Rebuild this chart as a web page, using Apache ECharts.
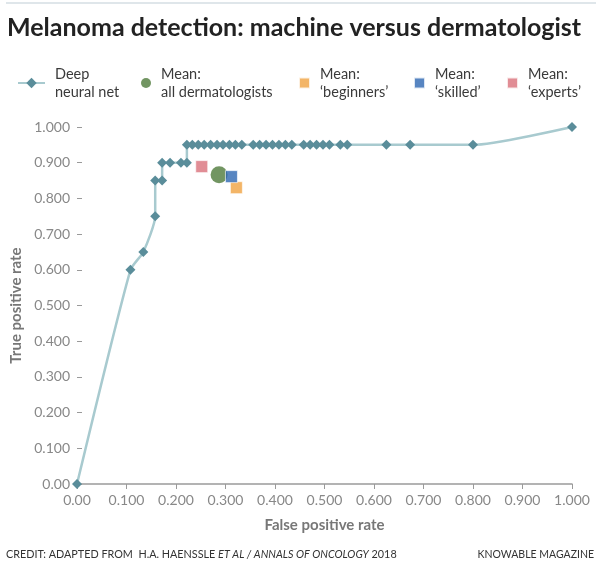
<!DOCTYPE html>
<html>
<head>
<meta charset="utf-8">
<script src="https://cdn.jsdelivr.net/npm/echarts@6/dist/echarts.min.js"></script>
<style>
  html, body { margin: 0; padding: 0; background: #fff; }
  #chart { width: 600px; height: 569px; }
</style>
</head>
<body>
<div id="chart"></div>
<script>
// ROC curve of the deep neural net (false positive rate / true positive rate)
var netFpr = [0, 0.108, 0.134, 0.158, 0.158, 0.172, 0.172, 0.188, 0.210, 0.222,
  0.222, 0.233, 0.245, 0.257, 0.270, 0.283, 0.295, 0.308, 0.320, 0.333,
  0.356, 0.369, 0.382, 0.395, 0.408, 0.421, 0.434,
  0.458, 0.471, 0.484, 0.497, 0.510,
  0.532, 0.546,
  0.625, 0.673, 0.800, 1.000];
var netTpr = [0, 0.60, 0.65, 0.75, 0.85, 0.85, 0.90, 0.90, 0.90, 0.90,
  0.95, 0.95, 0.95, 0.95, 0.95, 0.95, 0.95, 0.95, 0.95, 0.95,
  0.95, 0.95, 0.95, 0.95, 0.95, 0.95, 0.95,
  0.95, 0.95, 0.95, 0.95, 0.95,
  0.95, 0.95,
  0.95, 0.95, 0.95, 1.000];

// dermatologist means [fpr, tpr]
var meanAll = [0.287, 0.866];
var meanBeginners = [0.322, 0.830];
var meanSkilled = [0.312, 0.861];
var meanExperts = [0.252, 0.889];

var FONT = 'Lato';

function tickLabel(v) {
  return v === 0 ? '0.00' : v.toFixed(3);
}

var netData = netFpr.map(function (x, i) { return [x, netTpr[i]]; });

var myChart = echarts.init(document.getElementById('chart'));

function legendItem(name, left, size, label) {
  return {
    data: [name],
    left: left,
    top: 65,
    padding: 0,
    itemWidth: size[0],
    itemHeight: size[1],
    selectedMode: false,
    formatter: function () { return label; },
    textStyle: {
      fontFamily: FONT,
      fontSize: 14.5,
      lineHeight: 18,
      color: '#3a3a3a',
      padding: [0, 0, 0, 5]
    }
  };
}

option = {
  animation: false,
  title: {
    text: 'Melanoma detection: machine versus dermatologist',
    left: 7,
    top: 15,
    padding: 0,
    textStyle: {
      fontFamily: FONT,
      fontWeight: 'bold',
      fontSize: 25,
      color: '#222'
    }
  },
  legend: [
    legendItem('Deep neural net', 17, [27, 13], 'Deep\nneural net'),
    legendItem('Mean: all dermatologists', 141, [10, 10], 'Mean:\nall dermatologists'),
    legendItem('Mean: ‘beginners’', 298, [11, 11], 'Mean:\n‘beginners’'),
    legendItem('Mean: ‘skilled’', 413, [11, 11], 'Mean:\n‘skilled’'),
    legendItem('Mean: ‘experts’', 506, [11, 11], 'Mean:\n‘experts’')
  ],
  grid: {
    left: 77,
    right: 28,
    top: 127,
    bottom: 85
  },
  xAxis: {
    type: 'value',
    min: 0,
    max: 1,
    interval: 0.1,
    name: 'False positive rate',
    nameLocation: 'middle',
    nameGap: 34,
    nameTextStyle: {
      fontFamily: FONT,
      fontWeight: 'bold',
      fontSize: 15,
      color: '#777'
    },
    axisLine: { lineStyle: { color: '#9a9a9a', width: 1.5 } },
    axisTick: { show: true, length: 5, lineStyle: { color: '#9a9a9a' } },
    axisLabel: {
      formatter: tickLabel,
      fontFamily: FONT,
      fontSize: 14,
      color: '#888',
      margin: 9
    },
    splitLine: { show: false }
  },
  yAxis: {
    type: 'value',
    min: 0,
    max: 1,
    interval: 0.1,
    name: 'True positive rate',
    nameLocation: 'middle',
    nameGap: 50,
    nameTextStyle: {
      fontFamily: FONT,
      fontWeight: 'bold',
      fontSize: 15,
      color: '#777'
    },
    axisLine: { show: false },
    axisTick: { show: true, inside: true, length: 5, lineStyle: { color: '#9a9a9a' } },
    axisLabel: {
      formatter: tickLabel,
      fontFamily: FONT,
      fontSize: 14,
      color: '#888',
      margin: 7
    },
    splitLine: { show: false }
  },
  graphic: [
    {
      type: 'rect',
      shape: { x: 6, y: 2, width: 590, height: 2 },
      style: { fill: '#dfe6ea' }
    },
    {
      type: 'text',
      left: 6,
      top: 549,
      style: {
        text: '{n|CREDIT: ADAPTED FROM  H.A. HAENSSLE }{i|ET AL / ANNALS OF ONCOLOGY}{n| 2018}',
        rich: {
          n: { fontFamily: FONT, fontSize: 10.8, fill: '#333' },
          i: { fontFamily: FONT, fontSize: 10.8, fontStyle: 'italic', fill: '#333' }
        }
      }
    },
    {
      type: 'text',
      right: 6,
      top: 549,
      style: {
        text: 'KNOWABLE MAGAZINE',
        fontFamily: FONT,
        fontSize: 10.5,
        fill: '#333'
      }
    }
  ],
  series: [
    {
      name: 'Deep neural net',
      type: 'line',
      smooth: 0.2,
      data: netData,
      symbol: 'diamond',
      symbolSize: 10,
      showAllSymbol: true,
      lineStyle: { color: '#a8cacf', width: 2.5 },
      itemStyle: { color: '#5a8d9a' },
      z: 2
    },
    {
      name: 'Mean: all dermatologists',
      type: 'scatter',
      symbol: 'circle',
      symbolSize: 17,
      data: [meanAll],
      itemStyle: { color: '#4f7a3b' },
      z: 3
    },
    {
      name: 'Mean: ‘beginners’',
      type: 'scatter',
      symbol: 'rect',
      symbolSize: 12,
      data: [meanBeginners],
      itemStyle: { color: '#f0a341', borderColor: '#fff', borderWidth: 0.8 },
      z: 4
    },
    {
      name: 'Mean: ‘skilled’',
      type: 'scatter',
      symbol: 'rect',
      symbolSize: 12,
      data: [meanSkilled],
      itemStyle: { color: '#2d67b2', borderColor: '#fff', borderWidth: 0.8 },
      z: 5
    },
    {
      name: 'Mean: ‘experts’',
      type: 'scatter',
      symbol: 'rect',
      symbolSize: 12,
      data: [meanExperts],
      itemStyle: { color: '#d9707b', borderColor: '#fff', borderWidth: 0.8 },
      z: 3
    }
  ]
};

myChart.setOption(option);
</script>
</body>
</html>
